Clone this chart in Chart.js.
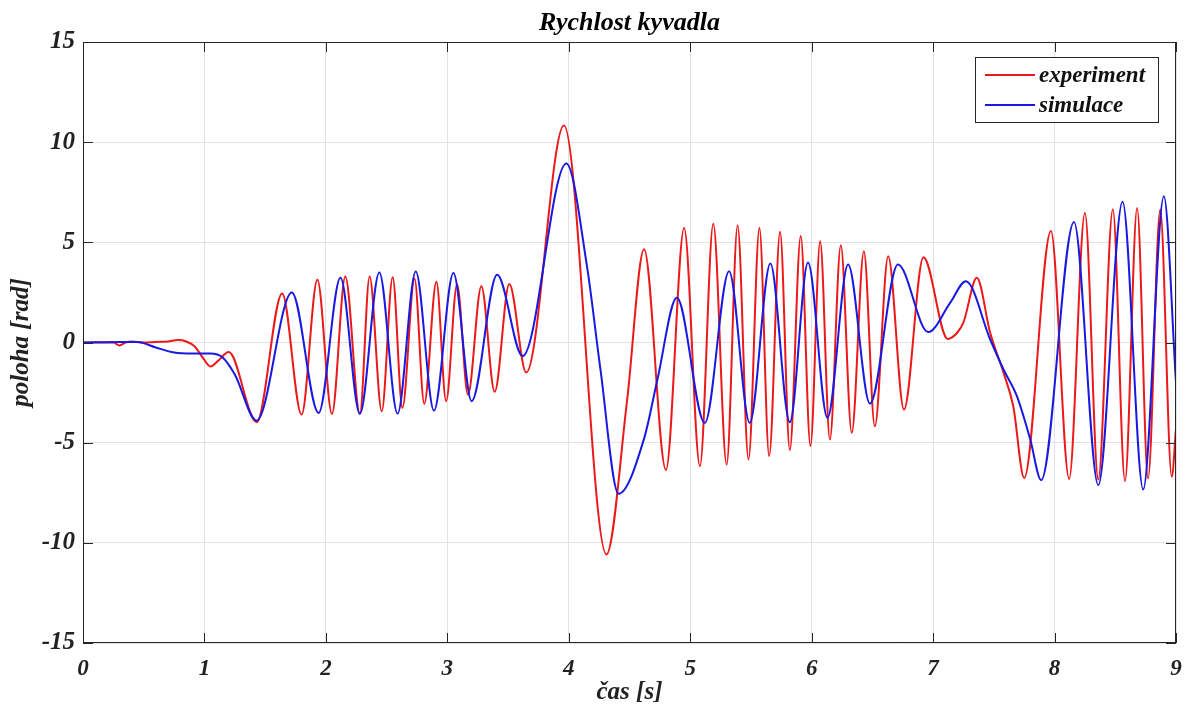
<!DOCTYPE html>
<html>
<head>
<meta charset="utf-8">
<script src="https://cdn.jsdelivr.net/npm/chart.js@4"></script>
<style>
  html, body { margin: 0; padding: 0; background: #fff; overflow: hidden; }
  canvas { display: block; }
</style>
</head>
<body>
<canvas id="mycanvas" width="1185" height="715"></canvas>
<script>
// experiment (red)
var expT = [0, 0.25, 0.3, 0.35, 0.4, 0.5, 0.6, 0.7, 0.78, 0.85, 0.92, 0.98, 1.05, 1.11, 1.2, 1.43,
  1.64, 1.80, 1.93, 2.05, 2.16, 2.28, 2.36, 2.46, 2.55, 2.63, 2.73, 2.81, 2.91, 2.99, 3.08, 3.17,
  3.28, 3.39, 3.51, 3.65, 3.96, 4.31, 4.48, 4.62, 4.80, 4.95, 5.08, 5.19, 5.30, 5.39, 5.48, 5.57,
  5.65, 5.74, 5.82, 5.91, 5.99, 6.07, 6.15, 6.24, 6.33, 6.43, 6.52, 6.63, 6.76, 6.92, 7.12, 7.2,
  7.25, 7.36, 7.47, 7.58, 7.66, 7.75, 7.97, 8.12, 8.25, 8.36, 8.48, 8.58, 8.68, 8.77, 8.87, 8.965, 9.0];
var expV = [0, 0, -0.15, 0, 0.05, 0, 0.03, 0.05, 0.12, 0.05, -0.2, -0.7, -1.2, -0.93, -0.48, -3.98,
  2.45, -3.6, 3.13, -3.56, 3.3, -3.55, 3.3, -3.43, 3.26, -3.26, 3.18, -3.06, 3.03, -2.93, 2.9, -2.6,
  2.81, -2.46, 2.92, -1.5, 10.83, -10.58, -2.9, 4.66, -6.36, 5.72, -6.17, 5.93, -6.09, 5.84, -5.84, 5.72,
  -5.67, 5.53, -5.37, 5.31, -5.17, 5.06, -4.84, 4.86, -4.51, 4.56, -4.18, 4.31, -3.35, 4.26, 0.18, 0.5,
  1.0, 3.23, 0.48, -1.51, -3.18, -6.76, 5.56, -6.81, 6.48, -6.84, 6.65, -6.92, 6.71, -6.78, 6.64, -6.7, -4.3];

// simulace (blue)
var simT = [0, 0.3, 0.45, 0.6, 0.75, 0.9, 1.05, 1.15, 1.25, 1.43, 1.72, 1.94, 2.12, 2.28, 2.44, 2.59,
  2.74, 2.89, 3.05, 3.20, 3.41, 3.62, 3.98, 4.15, 4.26, 4.41, 4.62, 4.73, 4.89, 5.12, 5.32, 5.49,
  5.66, 5.82, 5.97, 6.13, 6.30, 6.48, 6.71, 6.96, 7.14, 7.27, 7.47, 7.58, 7.69, 7.80, 7.89, 8.16,
  8.36, 8.56, 8.73, 8.9, 9.0];
var simV = [0, 0.03, 0.02, -0.25, -0.5, -0.55, -0.55, -0.75, -1.6, -3.9, 2.5, -3.52, 3.23, -3.56, 3.5, -3.55,
  3.55, -3.4, 3.47, -2.93, 3.38, -0.68, 8.94, 3.8, -1.3, -7.55, -4.8, -1.85, 2.23, -4.01, 3.56, -4.01,
  3.94, -3.98, 3.99, -3.76, 3.89, -3.05, 3.89, 0.52, 1.98, 3.06, 0.15, -1.35, -2.68, -4.84, -6.87, 6.01,
  -7.12, 7.02, -7.34, 7.3, -2.0];

var seriesNames = ['experiment', 'simulace'];
var chartTitle = 'Rychlost kyvadla';
var xMin = 0, xMax = 9, xStep = 1;
var yMin = -15, yMax = 15, yStep = 5;

var serif = '"Liberation Serif", "Times New Roman", serif';

function pts(t, v) {
  var out = [];
  for (var i in t) out.push({x: t[i], y: v[i]});
  return out;
}

// box, inward ticks, title over the plot and legend (MATLAB look)
var framePlugin = {
  id: 'frame',
  afterDatasetsDraw: function(chart) {
    var ctx = chart.ctx, a = chart.chartArea;
    var sx = chart.scales.x, sy = chart.scales.y;
    ctx.save();
    ctx.strokeStyle = '#262626';
    ctx.lineWidth = 1;
    ctx.strokeRect(a.left + 0.5, a.top + 0.5, a.right - a.left - 1, a.bottom - a.top - 1);
    var tl = 10;
    ctx.beginPath();
    for (var v = xMin; v <= xMax; v += xStep) {
      var px = Math.round(sx.getPixelForValue(v)) + 0.5;
      ctx.moveTo(px, a.bottom); ctx.lineTo(px, a.bottom - tl);
      ctx.moveTo(px, a.top); ctx.lineTo(px, a.top + tl);
    }
    for (var w = yMin; w <= yMax; w += yStep) {
      var py = Math.round(sy.getPixelForValue(w)) + 0.5;
      ctx.moveTo(a.left, py); ctx.lineTo(a.left + tl, py);
      ctx.moveTo(a.right, py); ctx.lineTo(a.right - tl, py);
    }
    ctx.stroke();

    // title
    ctx.fillStyle = '#000';
    ctx.font = 'italic bold 26px ' + serif;
    ctx.textAlign = 'center';
    ctx.textBaseline = 'middle';
    ctx.fillText(chartTitle, (a.left + a.right) / 2, 23);

    // legend
    var bw = 183, bh = 65;
    var bx = a.right - 18 - bw, by = a.top + 15;
    ctx.fillStyle = '#fff';
    ctx.fillRect(bx, by, bw, bh);
    ctx.strokeStyle = '#262626';
    ctx.lineWidth = 1;
    ctx.strokeRect(bx + 0.5, by + 0.5, bw, bh);
    ctx.font = 'italic bold 23px ' + serif;
    ctx.textAlign = 'left';
    var ds = chart.data.datasets;
    for (var i = 0; i < ds.length; i++) {
      var ly = by + 18 + i * 30;
      ctx.strokeStyle = ds[i].borderColor;
      ctx.lineWidth = 2;
      ctx.beginPath();
      ctx.moveTo(bx + 10, ly); ctx.lineTo(bx + 60, ly);
      ctx.stroke();
      ctx.fillStyle = '#111';
      ctx.fillText(ds[i].label, bx + 64, ly + 1);
    }
    ctx.restore();
  }
};

var chartdata = {
  datasets: [
    {
      label: seriesNames[0],
      data: pts(expT, expV),
      borderColor: 'rgb(235, 25, 25)',
      borderWidth: 2,
      pointRadius: 0,
      cubicInterpolationMode: 'monotone',
      order: 1
    },
    {
      label: seriesNames[1],
      data: pts(simT, simV),
      borderColor: 'rgb(25, 25, 225)',
      borderWidth: 2,
      pointRadius: 0,
      cubicInterpolationMode: 'monotone',
      order: 0
    }
  ]
};

var ctx = document.getElementById('mycanvas');

var lineGraph = new Chart(ctx, {
  type: 'line',
  data: chartdata,
  plugins: [framePlugin],
  options: {
    responsive: false,
    animation: false,
    layout: { padding: { left: 0, right: 0, top: 42, bottom: 0 } },
    plugins: {
      legend: { display: false },
      tooltip: { enabled: false },
      title: { display: false }
    },
    scales: {
      x: {
        type: 'linear',
        min: xMin,
        max: xMax,
        ticks: {
          stepSize: xStep,
          color: '#222',
          padding: 12,
          maxRotation: 0,
          font: { family: serif, size: 23, style: 'italic', weight: 'bold' }
        },
        grid: { color: '#e2e2e2', drawTicks: false },
        border: { display: false },
        title: {
          display: true,
          text: 'čas [s]',
          color: '#222',
          font: { family: serif, size: 25, style: 'italic', weight: 'bold' },
          padding: 7
        },
        afterFit: function(scale) {
          scale.height = 72;
          scale.paddingLeft = 0;
          scale.paddingRight = 9;
        }
      },
      y: {
        min: yMin,
        max: yMax,
        ticks: {
          stepSize: yStep,
          color: '#222',
          padding: 8,
          font: { family: serif, size: 25, style: 'italic', weight: 'bold' }
        },
        grid: { color: '#e2e2e2', drawTicks: false },
        border: { display: false },
        title: {
          display: true,
          text: 'poloha [rad]',
          color: '#222',
          font: { family: serif, size: 25, style: 'italic', weight: 'bold' },
          padding: 7
        },
        afterFit: function(scale) { scale.width = 83; }
      }
    }
  }
});
</script>
</body>
</html>
